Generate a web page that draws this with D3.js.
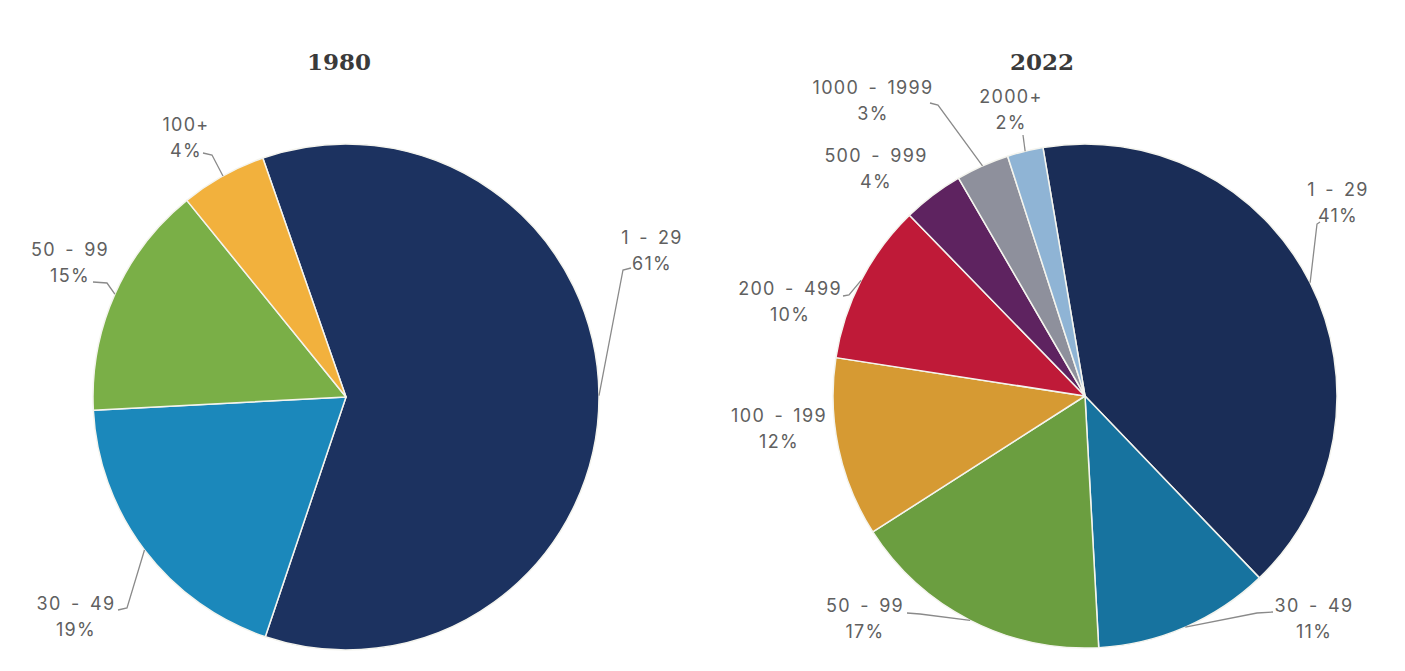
<!DOCTYPE html>
<html>
<head>
<meta charset="utf-8">
<script src="https://cdn.jsdelivr.net/npm/d3@7/dist/d3.min.js"></script>
<style>
  html, body { margin: 0; padding: 0; background: #fff; }
  .title { font-family: "DejaVu Serif", serif; font-weight: bold; font-size: 23px; fill: #3a3a3a; }
  .lbl { font-family: Inter, "Noto Sans", sans-serif; font-size: 18px; fill: #606060; letter-spacing: 1.3px; word-spacing: 3px; }
  .leader { fill: none; stroke: #8a8a8a; stroke-width: 1.3; }
</style>
</head>
<body>
<svg id="chart" width="1405" height="671"></svg>
<script>
// data
var years = ['1980', '2022'];

var categories1980 = ['1 - 29', '30 - 49', '50 - 99', '100+'];
var shares1980 = [60.5, 19, 15, 5.5];
var pctLabels1980 = ['61%', '19%', '15%', '4%'];

var categories2022 = ['1 - 29', '30 - 49', '50 - 99', '100 - 199', '200 - 499', '500 - 999', '1000 - 1999', '2000+'];
var shares2022 = [40.5, 11.3, 16.8, 11.5, 10.3, 3.9, 3.4, 2.3];
var pctLabels2022 = ['41%', '11%', '17%', '12%', '10%', '4%', '3%', '2%'];

// styling / layout
var colors1980 = ['#1c3260', '#1b88bb', '#7aaf47', '#f2b13d'];
var colors2022 = ['#1a2d57', '#17739f', '#6b9e40', '#d69a33', '#bf1a38', '#5e2360', '#8e909c', '#8fb4d5'];

// label placement relative to pie center: [text x, text y, elbow x, elbow y, tip x, tip y]
// null elbow = no leader line
var place1980 = [
    [306, -159, 277, -127, 285, -129],
    [-270, 207, -219, 211, -228, 213],
    [-276, -147, -239, -114, -253, -115],
    [-160, -272, -134, -242, -143, -244]
];
var place2022 = [
    [253, -206, 232, -172, 235, -174],
    [229, 210, 172, 217, 188, 216],
    [-220, 210, -165, 218, -178, 217],
    [-306, 20, null, null, null, null],
    [-295, -107, -236, -101, -242, -100],
    [-209, -240, null, null, null, null],
    [-212, -308, -147, -291, -155, -293],
    [-74, -299, -62, -261, -62, -261]
];

var svg = d3.select('#chart');

var drawPie = function(opts) {
    var g = svg.append('g').attr('transform', 'translate(' + opts.cx + ',' + opts.cy + ')');

    svg.append('text')
        .attr('class', 'title')
        .attr('x', opts.titleX)
        .attr('y', 70)
        .attr('text-anchor', 'middle')
        .text(opts.title);

    var pie = d3.pie()
        .sort(null)
        .value(function(d) { return d; })
        .startAngle(opts.start * Math.PI / 180)
        .endAngle(opts.start * Math.PI / 180 + 2 * Math.PI);

    var arcs = pie(opts.values);
    var arc = d3.arc().innerRadius(0).outerRadius(opts.r);

    g.selectAll('path.slice')
        .data(arcs)
        .enter().append('path')
        .attr('class', 'slice')
        .attr('d', arc)
        .attr('fill', function(d, i) { return opts.colors[i]; })
        .attr('stroke', '#f4f4ee')
        .attr('stroke-width', 1.5)
        .attr('stroke-linejoin', 'round');

    arcs.forEach(function(a, i) {
        var p = opts.place[i];
        var mid = (a.startAngle + a.endAngle) / 2;
        var ex = Math.sin(mid) * opts.r;
        var ey = -Math.cos(mid) * opts.r;
        if (p[2] !== null) {
            g.append('path')
                .attr('class', 'leader')
                .attr('d', d3.line()([[ex, ey], [p[2], p[3]], [p[4], p[5]]]));
        }
        var t = g.append('text')
            .attr('class', 'lbl')
            .attr('text-anchor', 'middle')
            .attr('x', p[0])
            .attr('y', p[1] + 6);
        t.append('tspan').attr('x', p[0]).attr('dy', 0).text(opts.cats[i]);
        t.append('tspan').attr('x', p[0]).attr('dy', 26).text(opts.pcts[i]);
    });
};

drawPie({
    title: years[0], titleX: 339, cx: 346, cy: 397, r: 253, start: -19.2,
    values: shares1980, cats: categories1980, pcts: pctLabels1980,
    colors: colors1980, place: place1980
});

drawPie({
    title: years[1], titleX: 1042, cx: 1085, cy: 396, r: 252, start: -9.6,
    values: shares2022, cats: categories2022, pcts: pctLabels2022,
    colors: colors2022, place: place2022
});
</script>
</body>
</html>
